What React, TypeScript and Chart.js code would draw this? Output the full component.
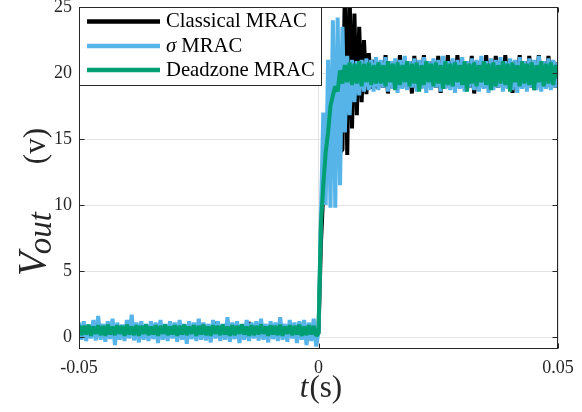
import React, { useEffect, useRef } from "react";
import { Chart, registerables } from "chart.js";

Chart.register(...registerables);

// ---------- data ----------
const T_START = -0.05;
const T_STEP = 0.0005;
const SAMPLE_COUNT = 201;
const timeSeconds: number[] = Array.from({ length: SAMPLE_COUNT }, (_, i) =>
  +(T_START + i * T_STEP).toFixed(4)
);

const classicalMRAC: number[] = [
  // t < 0
  0.7, 0.25, 0.75, 0.2, 0.65, 0.3, 0.8, 0.2, 0.7, 0.25,
  0.75, 0.3, 0.65, 0.2, 0.8, 0.25, 0.7, 0.3, 0.75, 0.2,
  0.65, 0.25, 0.8, 0.3, 0.7, 0.2, 0.75, 0.25, 0.65, 0.3,
  0.8, 0.2, 0.7, 0.25, 0.75, 0.3, 0.65, 0.2, 0.8, 0.25,
  0.7, 0.3, 0.75, 0.2, 0.65, 0.25, 0.8, 0.3, 0.7, 0.2,
  0.75, 0.25, 0.65, 0.3, 0.8, 0.2, 0.7, 1.1, 0.75, 0.3,
  0.65, 0.2, 0.8, 0.25, 0.7, 0.3, 0.75, 0.2, 0.65, 0.25,
  0.8, 1.1, 0.7, 0.2, 0.75, 0.25, 0.65, 0.3, 0.8, 0.2,
  0.7, 0.25, 0.75, 0.3, 0.65, 0.2, 0.8, 0.25, 0.7, 0.3,
  0.75, 0.2, 0.65, 0.25, 0.8, 0.3, 0.7, 0.2, 0.75, 0.25,
  // t = 0
  0.3,
  // transient
  7, 11, 13, 14, 13.5, 15, 14, 15, 14, 14.2,
  26.5, 13.8, 26, 15.8, 24.5, 16.8, 23.5, 17.8, 22.5, 18.4,
  21.5, 18.8, 21, 19,
  // steady state
  18.9, 20.9, 18.9, 21.35, 18.45, 20.9, 18.9, 20.9, 18.9, 21.35,
  18.9, 20.9, 18.9, 20.9, 18.45, 21.3, 18.9, 20.9, 18.9, 21.35,
  18.9, 20.9, 18.9, 20.9, 18.9, 21.3, 18.5, 20.9, 18.9, 21.35,
  18.9, 20.9, 18.9, 21.35, 18.9, 20.9, 18.9, 20.9, 18.9, 21.3,
  18.45, 20.9, 18.9, 20.9, 18.9, 21.35, 18.9, 20.9, 18.9, 21.3,
  18.9, 20.9, 18.9, 21.35, 18.9, 20.9, 18.5, 20.9, 18.9, 21.35,
  18.9, 20.9, 18.9, 21.3, 18.9, 20.9, 18.9, 21.35, 18.9, 20.9,
  18.9, 21.3, 18.9, 20.9, 18.9, 20.8,
];

const sigmaMRAC: number[] = [
  // t < 0
  1.1, -0.2, 1.2, -0.3, 0.9, -0.1, 1.3, -0.25, 1.6, -0.2,
  1.0, -0.35, 1.2, -0.15, 1.4, -0.6, 1.1, -0.2, 0.95, -0.3,
  1.3, -0.1, 1.7, -0.25, 1.1, -0.4, 1.2, -0.2, 1.0, -0.3,
  1.2, -0.15, 1.1, -0.45, 1.3, -0.2, 1.0, -0.3, 1.2, -0.1,
  1.1, -0.35, 1.3, -0.2, 1.0, -0.5, 1.2, -0.15, 1.1, -0.3,
  1.4, -0.2, 1.1, -0.25, 1.0, -0.4, 1.3, -0.1, 1.2, -0.3,
  1.0, -0.2, 1.5, -0.35, 1.1, -0.15, 1.2, -0.45, 1.0, -0.2,
  1.3, -0.3, 1.1, -0.1, 1.2, -0.25, 1.4, -0.2, 1.0, -0.4,
  1.2, -0.15, 1.1, -0.3, 1.5, -0.2, 1.0, -0.35, 1.3, -0.1,
  1.1, -0.45, 1.2, -0.2, 1.3, -0.6, 1.1, -0.3, 1.4, -0.7,
  // t = 0
  0.4,
  // transient
  9, 17, 10, 21, 9.8, 24, 9.8, 24.2, 11.5, 23.5,
  15.5, 21.3, 16.8, 21, 17.8, 20.9, 18.3, 21, 18.6, 21.1,
  18.7, 21, 18.6, 21.2,
  // steady state
  18.7, 21.0, 18.9, 21.2, 18.6, 20.9, 18.8, 21.1, 18.5, 21.0,
  18.8, 21.3, 18.7, 20.9, 18.9, 21.1, 18.6, 21.0, 18.8, 21.2,
  18.5, 20.9, 18.7, 21.1, 18.9, 21.0, 18.6, 21.3, 18.8, 20.9,
  18.7, 21.1, 18.5, 21.0, 18.8, 21.2, 18.6, 20.9, 18.9, 21.1,
  18.7, 21.0, 18.6, 21.3, 18.8, 20.9, 18.5, 21.1, 18.7, 21.0,
  18.9, 21.2, 18.6, 20.9, 18.8, 21.1, 18.7, 21.0, 18.5, 21.2,
  18.8, 20.9, 18.6, 21.1, 18.9, 21.0, 18.7, 21.3, 18.6, 20.9,
  18.8, 21.1, 18.7, 21.0, 18.9, 20.8,
];

const deadzoneMRAC: number[] = [
  // t < 0
  0.9, 0.15, 0.85, 0.2, 0.95, 0.1, 0.8, 0.25, 0.9, 0.15,
  0.85, 0.1, 0.95, 0.2, 0.8, 0.15, 0.9, 0.25, 0.85, 0.1,
  0.95, 0.2, 0.8, 0.15, 0.9, 0.1, 0.85, 0.25, 0.95, 0.15,
  0.8, 0.2, 0.9, 0.1, 0.85, 0.25, 0.95, 0.15, 0.8, 0.2,
  0.9, 0.1, 0.85, 0.2, 0.95, 0.15, 0.8, 0.25, 0.9, 0.1,
  0.85, 0.2, 0.95, 0.15, 0.8, 0.1, 0.9, 0.25, 0.85, 0.15,
  0.95, 0.2, 0.8, 0.1, 0.9, 0.15, 0.85, 0.25, 0.95, 0.2,
  0.8, 0.1, 0.9, 0.15, 0.85, 0.2, 0.95, 0.25, 0.8, 0.1,
  0.9, 0.2, 0.85, 0.15, 0.95, 0.1, 0.8, 0.25, 0.9, 0.15,
  0.85, 0.2, 0.95, 0.1, 0.8, 0.15, 0.9, 0.2, 0.85, 0.1,
  // t = 0
  0.3,
  // transient
  8.5, 11.5, 14, 15.5, 17.5, 18.3, 19, 18.6, 20.2, 19.2,
  20.6, 19.3, 20.8, 19.1, 20.7, 19.2, 20.9, 19.0, 20.7, 19.3,
  20.8, 19.1, 20.6, 19.2,
  // steady state
  20.8, 19.2, 20.6, 19.0, 20.9, 19.3, 20.7, 18.7, 20.8, 19.1,
  20.6, 19.3, 20.9, 19.0, 20.7, 19.2, 20.8, 18.6, 20.6, 19.1,
  20.9, 19.3, 20.7, 19.0, 20.8, 19.2, 20.6, 18.8, 20.9, 19.1,
  20.7, 19.0, 20.8, 19.3, 20.6, 19.1, 20.9, 18.6, 20.7, 19.2,
  20.8, 19.0, 20.6, 19.3, 20.9, 19.1, 20.7, 18.7, 20.8, 19.0,
  20.6, 19.2, 20.9, 19.1, 20.7, 18.6, 20.8, 19.3, 20.6, 19.0,
  20.9, 19.2, 20.7, 19.1, 20.8, 18.7, 20.6, 19.3, 20.9, 19.0,
  20.7, 19.2, 20.8, 19.1, 20.6, 19.6,
];

const seriesNames = ["Classical MRAC", "σ MRAC", "Deadzone MRAC"];
const seriesColors = ["#000000", "#56B4E9", "#009E73"];
const seriesValues = [classicalMRAC, sigmaMRAC, deadzoneMRAC];

const xTicks = [-0.05, 0, 0.05];
const xTickLabels = ["-0.05", "0", "0.05"];
const yTicks = [0, 5, 10, 15, 20, 25];
const X_MIN = -0.05;
const X_MAX = 0.05;
const Y_MIN = -0.9;
const Y_MAX = 25;

// ---------- styling ----------
const SERIF = '"Liberation Serif", "DejaVu Serif", serif';
const AXIS_COLOR = "#262626";
const GRID_COLOR = "#e3e3e3";
const LINE_WIDTH = 4;

const decorPlugin = {
  id: "decor",
  afterDraw(chart: any) {
    const { ctx, chartArea: a, scales } = chart;
    const xs = scales.x;
    const ys = scales.y;
    const L = Math.round(a.left) + 0.5;
    const R = Math.round(a.right) - 0.5;
    const T = Math.round(a.top) + 0.5;
    const B = Math.round(a.bottom) - 0.5;
    ctx.save();

    // frame
    ctx.strokeStyle = AXIS_COLOR;
    ctx.lineWidth = 1;
    ctx.strokeRect(L, T, R - L, B - T);

    // inward ticks
    const TL = 5;
    ctx.beginPath();
    yTicks.forEach((v) => {
      const y = Math.round(ys.getPixelForValue(v)) + 0.5;
      ctx.moveTo(L, y);
      ctx.lineTo(L + TL, y);
      ctx.moveTo(R, y);
      ctx.lineTo(R - TL, y);
    });
    xTicks.forEach((v) => {
      const x = Math.round(xs.getPixelForValue(v)) + 0.5;
      ctx.moveTo(x, B);
      ctx.lineTo(x, B - TL);
      ctx.moveTo(x, T);
      ctx.lineTo(x, T + TL);
    });
    ctx.stroke();

    // legend
    const lx = L;
    const ly = T;
    const lw = 242;
    const lh = 78;
    ctx.fillStyle = "#ffffff";
    ctx.fillRect(lx, ly, lw, lh);
    ctx.strokeStyle = AXIS_COLOR;
    ctx.lineWidth = 1;
    ctx.strokeRect(lx, ly, lw, lh);
    const rowLineY = [21.5, 46, 70];
    const rowBase = [27, 51.5, 76];
    const fontSize = 20.7;
    seriesNames.forEach((name, i) => {
      ctx.strokeStyle = seriesColors[i];
      ctx.lineWidth = 4.5;
      ctx.beginPath();
      ctx.moveTo(87, rowLineY[i]);
      ctx.lineTo(160, rowLineY[i]);
      ctx.stroke();
      ctx.fillStyle = "#000000";
      ctx.textBaseline = "alphabetic";
      ctx.textAlign = "left";
      if (name.startsWith("σ")) {
        ctx.font = `italic ${fontSize}px ${SERIF}`;
        ctx.fillText("σ", 166, rowBase[i]);
        const w = ctx.measureText("σ").width;
        ctx.font = `${fontSize}px ${SERIF}`;
        ctx.fillText(name.slice(1), 166 + w, rowBase[i]);
      } else {
        ctx.font = `${fontSize}px ${SERIF}`;
        ctx.fillText(name, 166, rowBase[i]);
      }
    });

    // x-axis title: t(s)
    ctx.fillStyle = AXIS_COLOR;
    const xf = 31;
    ctx.font = `italic ${xf}px ${SERIF}`;
    const wT = ctx.measureText("t").width + 1;
    ctx.font = `${xf}px ${SERIF}`;
    const wS = ctx.measureText("(s)").width;
    const xCenter = 321;
    const startX = xCenter - (wT + wS) / 2;
    ctx.font = `italic ${xf}px ${SERIF}`;
    ctx.fillText("t", startX, 397);
    ctx.font = `${xf}px ${SERIF}`;
    ctx.fillText("(s)", startX + wT, 397);

    // y-axis title: V_out (v), laid out from its bottom (y=276) upward
    const vf = 39;
    const sf = 33;
    const pf = 31;
    ctx.translate(45, 276);
    ctx.rotate(-Math.PI / 2);
    ctx.font = `italic ${vf}px ${SERIF}`;
    ctx.fillText("V", 0, 0);
    const wV = ctx.measureText("V").width;
    ctx.font = `italic ${sf}px ${SERIF}`;
    ctx.fillText("out", wV - 2, 6);
    ctx.font = `${pf}px ${SERIF}`;
    const wP = ctx.measureText("(v)").width;
    ctx.fillText("(v)", 148 - wP, 0);

    ctx.restore();
  },
};

export default function App() {
  const canvasRef = useRef<HTMLCanvasElement | null>(null);

  useEffect(() => {
    if (!canvasRef.current) return;
    const drawOrder = [3, 2, 1]; // green on top, then blue, then black
    const datasets = seriesNames.map((name, s) => ({
      label: name,
      data: timeSeconds.map((t, i) => ({ x: t, y: seriesValues[s][i] })),
      borderColor: seriesColors[s],
      backgroundColor: seriesColors[s],
      borderWidth: LINE_WIDTH,
      borderJoinStyle: "bevel" as const,
      pointRadius: 0,
      tension: 0,
      fill: false,
      clip: 0,
      order: drawOrder[s],
    }));

    const chart = new Chart(canvasRef.current, {
      type: "line",
      data: { datasets },
      plugins: [decorPlugin],
      options: {
        animation: false,
        responsive: false,
        devicePixelRatio: 1,
        layout: { padding: { left: 0, top: 7, right: 24, bottom: 0 } },
        plugins: {
          legend: { display: false },
          tooltip: { enabled: false },
        },
        scales: {
          x: {
            type: "linear",
            min: X_MIN,
            max: X_MAX,
            afterBuildTicks: (scale: any) => {
              scale.ticks = xTicks.map((v) => ({ value: v }));
            },
            afterFit: (scale: any) => {
              scale.height = 63;
              scale.paddingLeft = 0;
              scale.paddingRight = 0;
            },
            ticks: {
              autoSkip: false,
              maxRotation: 0,
              padding: 8,
              color: AXIS_COLOR,
              font: { family: SERIF, size: 18 },
              callback: (v: any) => {
                const idx = xTicks.findIndex((t) => Math.abs(t - Number(v)) < 1e-9);
                return idx >= 0 ? xTickLabels[idx] : "";
              },
            },
            grid: { color: GRID_COLOR, lineWidth: 1, drawTicks: false },
            border: { display: false },
          },
          y: {
            type: "linear",
            min: Y_MIN,
            max: Y_MAX,
            afterBuildTicks: (scale: any) => {
              scale.ticks = yTicks.map((v) => ({ value: v }));
            },
            afterFit: (scale: any) => {
              scale.width = 79;
              scale.paddingTop = 0;
              scale.paddingBottom = 0;
            },
            ticks: {
              padding: 7,
              color: AXIS_COLOR,
              font: { family: SERIF, size: 18 },
              callback: (v: any) => String(v),
            },
            grid: { color: GRID_COLOR, lineWidth: 1, drawTicks: false },
            border: { display: false },
          },
        },
      },
    });
    return () => chart.destroy();
  }, []);

  return (
    <div style={{ position: "absolute", left: 0, top: 0, width: 582, height: 412, background: "#ffffff" }}>
      <canvas ref={canvasRef} width={582} height={412} style={{ display: "block" }} />
    </div>
  );
}
